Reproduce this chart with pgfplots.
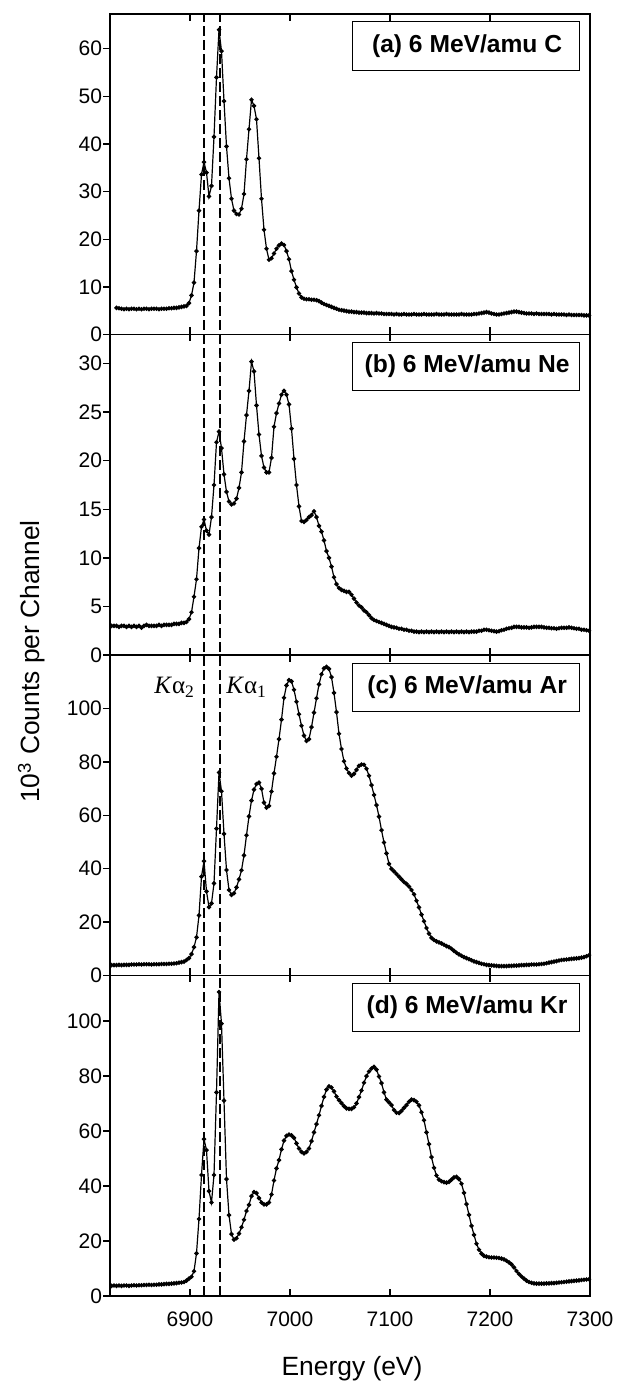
\documentclass[border=0pt]{standalone}
\usepackage{fontspec}
\setmainfont{Liberation Sans}
\newfontfamily\seriffont{Liberation Serif}
\usepackage{pgfplots}
\usepackage{pgfplotstable}
\pgfplotsset{compat=1.18}

\pgfplotstableread{
E a b c d
6821.5 nan 3.0 3.9 3.7
6824 nan 3.0 3.9 3.8
6826.5 5.6 3.0 3.9 3.7
6829 5.5 2.9 4.0 3.8
6831.5 5.4 3.0 3.9 3.7
6834 5.3 3.0 4.0 3.8
6836.5 5.4 2.9 4.0 3.8
6839 5.3 3.0 4.0 3.7
6841.5 5.4 2.9 4.1 3.8
6844 5.4 3.0 4.1 3.9
6846.5 5.3 2.9 4.1 3.8
6849 5.4 3.0 4.2 3.9
6851.5 5.3 2.8 4.1 3.9
6854 5.4 3.0 4.2 4.0
6856.5 5.4 3.1 4.2 4.0
6859 5.3 3.0 4.2 4.1
6861.5 5.4 3.0 4.1 4.0
6864 5.4 3.0 4.2 4.1
6866.5 5.4 3.0 4.2 4.1
6869 5.3 3.1 4.2 4.2
6871.5 5.4 3.0 4.3 4.2
6874 5.4 3.1 4.3 4.3
6876.5 5.4 3.1 4.3 4.4
6879 5.5 3.1 4.4 4.4
6881.5 5.5 3.1 4.4 4.5
6884 5.6 3.2 4.5 4.6
6886.5 5.6 3.2 4.6 4.7
6889 5.7 3.2 4.8 4.8
6891.5 5.8 3.3 5.0 4.9
6894 5.9 3.3 5.2 5.1
6896.5 6.0 3.4 5.8 5.6
6899 6.6 3.7 6.5 6.3
6901.5 8.2 4.4 8.0 7.0
6904 10.9 6.0 10.6 9.0
6906.5 17.5 7.8 14.3 15.5
6909 26.0 11.0 22.5 28.0
6911.5 33.6 13.2 37.0 44.0
6914 36.2 13.95 42.8 57.0
6916.5 34.0 12.8 31.5 53.0
6919 29.0 12.4 25.6 38.1
6921.5 31.2 14.2 27.0 34.0
6924 41.5 17.5 34.5 44.0
6926.5 54.0 21.9 55.0 74.0
6929 64.0 23.0 76.0 110.5
6931.5 59.5 21.3 69.0 99.0
6934 49.0 18.6 53.0 71.0
6936.5 39.5 16.8 39.5 42.5
6939 32.8 15.8 32.0 29.4
6941.5 28.5 15.5 30.2 22.5
6944 26.0 15.6 30.8 20.5
6946.5 25.3 16.1 33.0 21.0
6949 25.2 17.2 36.0 22.7
6951.5 26.4 18.8 39.4 25.0
6954 29.5 22.0 45.0 27.7
6956.5 36.8 24.7 52.5 30.9
6959 43.1 27.2 59.6 33.1
6961.5 49.3 30.2 65.5 36.3
6964 48.0 29.2 69.6 37.8
6966.5 45.2 25.7 71.7 37.4
6969 37.0 22.7 72.2 35.6
6971.5 28.5 20.5 69.9 34.0
6974 22.0 19.3 64.7 33.3
6976.5 18.0 18.8 62.8 33.3
6979 15.7 18.8 63.5 34.0
6981.5 16.0 20.3 68.9 36.9
6984 17.0 23.5 75.7 42.0
6986.5 18.0 24.9 81.9 46.4
6989 18.7 25.9 88.5 49.4
6991.5 19.1 26.8 95.8 53.3
6994 18.8 27.2 104.0 56.5
6996.5 17.5 26.8 108.6 58.2
6999 15.8 25.8 110.6 58.7
7001.5 13.3 23.3 110.1 58.4
7004 11.5 20.2 107.0 57.5
7006.5 9.9 17.5 102.5 55.5
7009 8.6 15.3 97.8 53.6
7011.5 7.8 13.8 93.5 52.4
7014 7.5 13.7 89.8 51.8
7016.5 7.4 13.9 87.8 52.4
7019 7.4 14.2 88.5 53.6
7021.5 7.3 14.4 93.0 56.3
7024 7.3 14.8 98.4 59.5
7026.5 7.2 14.2 103.8 62.5
7029 7.0 13.3 109.0 65.7
7031.5 6.7 12.7 112.8 69.1
7034 6.4 11.8 115.0 72.4
7036.5 6.2 10.7 115.6 75.0
7039 6.0 10.0 114.8 76.2
7041.5 5.8 9.1 111.7 75.8
7044 5.6 8.0 105.8 74.4
7046.5 5.4 7.3 98.6 72.5
7049 5.2 6.9 90.5 71.2
7051.5 5.1 6.7 84.8 70.1
7054 5.0 6.6 80.2 69.0
7056.5 4.9 6.5 77.5 68.2
7059 4.8 6.5 75.8 68.0
7061.5 4.8 6.2 74.8 68.0
7064 4.7 5.8 75.5 68.6
7066.5 4.7 5.4 77.0 70.0
7069 4.6 5.1 78.5 72.3
7071.5 4.6 4.9 79.0 74.7
7074 4.6 4.6 78.9 77.5
7076.5 4.5 4.4 77.4 79.9
7079 4.5 4.1 74.8 81.6
7081.5 4.5 3.8 71.3 82.7
7084 4.4 3.6 67.6 83.3
7086.5 4.5 3.5 63.8 82.3
7089 4.4 3.4 59.5 79.8
7091.5 4.4 3.3 54.4 77.4
7094 4.3 3.2 49.8 74.0
7096.5 4.3 3.1 45.7 71.4
7099 4.3 3.0 41.8 70.4
7101.5 4.3 2.9 39.9 69.4
7104 4.2 2.85 39.0 67.6
7106.5 4.3 2.8 38.0 66.6
7109 4.2 2.7 37.0 66.5
7111.5 4.2 2.7 36.0 67.3
7114 4.3 2.6 35.0 68.4
7116.5 4.2 2.6 34.3 69.4
7119 4.2 2.5 33.3 70.6
7121.5 4.2 2.5 32.0 71.4
7124 4.3 2.4 30.4 71.2
7126.5 4.2 2.4 28.0 70.6
7129 4.2 2.35 25.5 69.3
7131.5 4.2 2.4 22.8 66.8
7134 4.3 2.35 20.3 63.9
7136.5 4.2 2.4 17.8 59.5
7139 4.2 2.35 15.7 55.2
7141.5 4.2 2.4 14.1 50.5
7144 4.2 2.35 13.3 46.6
7146.5 4.3 2.4 12.8 43.8
7149 4.2 2.35 12.4 42.3
7151.5 4.2 2.4 12.0 41.7
7154 4.2 2.35 11.5 41.4
7156.5 4.3 2.4 11.0 41.2
7159 4.2 2.35 10.6 41.5
7161.5 4.2 2.4 10.0 42.3
7164 4.2 2.35 9.2 43.1
7166.5 4.2 2.4 8.5 43.3
7169 4.2 2.35 7.9 42.5
7171.5 4.3 2.4 7.4 40.8
7174 4.2 2.35 6.9 37.5
7176.5 4.2 2.4 6.5 33.4
7179 4.2 2.35 6.1 29.5
7181.5 4.2 2.4 5.7 25.5
7184 4.3 2.4 5.3 22.2
7186.5 4.3 2.4 5.0 19.0
7189 4.4 2.5 4.7 16.8
7191.5 4.5 2.5 4.4 15.4
7194 4.6 2.6 4.2 14.6
7196.5 4.7 2.6 4.0 14.3
7199 4.6 2.55 3.9 14.1
7201.5 4.4 2.5 3.8 14.0
7204 4.3 2.45 3.7 14.0
7206.5 4.2 2.4 3.6 13.9
7209 4.2 2.45 3.5 13.8
7211.5 4.3 2.55 3.5 13.6
7214 4.4 2.6 3.5 13.3
7216.5 4.5 2.7 3.5 12.8
7219 4.6 2.75 3.6 12.2
7221.5 4.7 2.8 3.6 11.5
7224 4.8 2.9 3.7 10.4
7226.5 4.8 2.9 3.7 9.1
7229 4.7 2.9 3.8 8.0
7231.5 4.6 2.85 3.9 7.1
7234 4.5 2.85 3.9 6.3
7236.5 4.4 2.85 4.0 5.6
7239 4.4 2.8 4.0 5.1
7241.5 4.4 2.85 4.1 4.8
7244 4.3 2.9 4.1 4.6
7246.5 4.4 2.9 4.1 4.5
7249 4.3 2.9 4.2 4.5
7251.5 4.3 2.9 4.3 4.5
7254 4.3 2.85 4.4 4.5
7256.5 4.3 2.8 4.6 4.6
7259 4.3 2.8 4.8 4.6
7261.5 4.2 2.75 5.0 4.7
7264 4.3 2.75 5.2 4.7
7266.5 4.2 2.7 5.4 4.8
7269 4.2 2.75 5.6 4.9
7271.5 4.2 2.8 5.8 5.0
7274 4.2 2.8 5.9 5.1
7276.5 4.1 2.8 6.0 5.2
7279 4.2 2.85 6.1 5.3
7281.5 4.1 2.8 6.2 5.4
7284 4.1 2.75 6.3 5.5
7286.5 4.1 2.7 6.4 5.6
7289 4.1 2.7 6.5 5.7
7291.5 4.1 2.6 6.7 5.8
7294 4.0 2.6 6.9 5.9
7296.5 4.0 2.55 7.2 6.0
7299 4.0 2.5 7.6 6.1
}\spectra

\pgfplotsset{
  panel/.style={
    scale only axis,
    width=240pt, height=160.25pt,
    anchor=south west,
    xmin=6820, xmax=7300, ymin=0,
    xtick={6900,7000,7100,7200,7300},
    xtick pos=both, ytick pos=left,
    xtick align=inside, ytick align=outside,
    major tick length=3.5pt,
    axis line style={line width=0.8pt},
    every tick/.style={black, line width=0.7pt},
    tick label style={font=\fontsize{10.5}{12}\selectfont},
    /pgf/number format/assume math mode=true,
    /pgf/number format/1000 sep={},
    xticklabel style={yshift=-4.3pt},
    yticklabel style={xshift=3pt},
  },
  spec/.style={black, line width=0.6pt, mark=*, mark size=0.8pt},
}
\newcommand\panellabel[1]{%
  \draw[line width=0.5pt, fill=white] (rel axis cs:0.505,0.825) rectangle (rel axis cs:0.979,0.975);
  \node[font=\bfseries\fontsize{12.3}{14}\selectfont, inner sep=0pt] at (rel axis cs:0.744,0.9) {#1};%
}

\begin{document}
\begin{tikzpicture}
\useasboundingbox (0,0) rectangle (309pt,690.5pt);

% (a)
\begin{axis}[panel, at={(55pt,523.25pt)}, ymax=67.3, ytick={0,10,...,60}, xticklabels={}]
\addplot[spec] table[x=E, y=a] {\spectra};
\panellabel{(a) 6 MeV/amu C}
\coordinate (t1) at (axis cs:6913.5,67.3);
\coordinate (t2) at (axis cs:6929.5,67.3);
\end{axis}

% (b)
\begin{axis}[panel, at={(55pt,363pt)}, ymax=33, ytick={0,5,...,30}, xticklabels={}]
\addplot[spec] table[x=E, y=b] {\spectra};
\panellabel{(b) 6 MeV/amu Ne}
\end{axis}

% (c)
\begin{axis}[panel, at={(55pt,202.75pt)}, ymax=120, ytick={0,20,...,100}, xticklabels={}]
\addplot[spec] table[x=E, y=c] {\spectra};
\panellabel{(c) 6 MeV/amu Ar}
\node[anchor=base west, inner sep=0pt, font=\seriffont\fontsize{12.5}{14}\selectfont] at (axis cs:6864,105.4) {\textit{K}α\textsubscript{2}};
\node[anchor=base west, inner sep=0pt, font=\seriffont\fontsize{12.5}{14}\selectfont] at (axis cs:6936,105.4) {\textit{K}α\textsubscript{1}};
\end{axis}

% (d)
\begin{axis}[panel, at={(55pt,42.5pt)}, ymax=116.5, ytick={0,20,...,100}]
\addplot[spec] table[x=E, y=d] {\spectra};
\panellabel{(d) 6 MeV/amu Kr}
\coordinate (b1) at (axis cs:6913.5,0);
\coordinate (b2) at (axis cs:6929.5,0);
\end{axis}

\draw[line width=1pt, dash pattern=on 5pt off 2pt] (b1) -- (t1);
\draw[line width=1pt, dash pattern=on 5pt off 2pt] (b2) -- (t2);

\node[rotate=90, anchor=base, font=\fontsize{13.2}{15}\selectfont] at (19.75pt,359.75pt) {10\textsuperscript{3} Counts per Channel};
\node[anchor=base, font=\fontsize{13.2}{15}\selectfont] at (176pt,2.5pt) {Energy (eV)};
\end{tikzpicture}
\end{document}
